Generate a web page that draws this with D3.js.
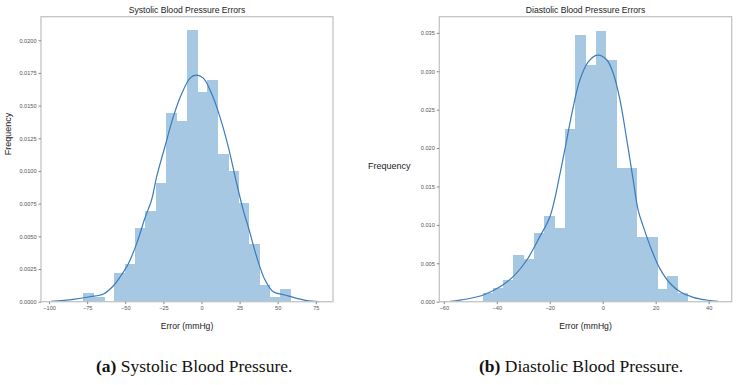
<!DOCTYPE html>
<html>
<head>
<meta charset="utf-8">
<script src="https://cdn.jsdelivr.net/npm/d3@7"></script>
<style>
  body { margin: 0; background: #fff; }
  .tick text { font-family: "Liberation Sans", Arial, sans-serif; font-size: 5.6px; fill: #555; }
  .tick line { stroke: #888; }
  .domain { display: none; }
  .frame { fill: none; stroke: #c4c4c4; stroke-width: 1.3; }
  .bar { fill: #a6c8e2; shape-rendering: crispEdges; }
  .kde { fill: none; stroke: #3a7bbb; stroke-width: 1.2; }
  .title, .lbl { font-family: "Liberation Sans", Arial, sans-serif; fill: #222; }
  .cap { font-family: "Liberation Serif", serif; fill: #111; }
</style>
</head>
<body>
<div class="container"></div>
<script>
var WIDTH = 750, HEIGHT = 385;

// systolic errors (mmHg)
var sysBinEdges = [-77.5,-70.7,-63.9,-57.2,-50.4,-43.6,-36.8,-30.0,-23.3,-16.5,-9.7,-2.9,3.9,10.6,17.4,24.2,31.0,37.8,44.5,51.3,58.1];
var sysBinValues = [0.00064,0.00038,0,0.0022,0.00286,0.00563,0.00693,0.0091,0.01443,0.01384,0.02075,0.01603,0.01697,0.01131,0.01002,0.00752,0.00439,0.00125,0.00034,0.00097];
var sysKdeX = [-98.7,-84.1,-73.2,-64.4,-57.9,-53.5,-48,-42.5,-37.1,-32.7,-29.4,-24,-18.5,-13,-7.5,-3.6,1.2,6.7,12.1,17.6,23.1,27.4,30.7,36.2,41.7,47.1,54.8,62.5,69,77];
var sysKdeY = [0.00003,0.00018,0.00038,0.00059,0.0012,0.00187,0.0029,0.00446,0.0064,0.0078,0.00956,0.01185,0.01414,0.0159,0.0171,0.01733,0.0171,0.0159,0.01414,0.01185,0.00905,0.007,0.00573,0.00344,0.00166,0.00076,0.00051,0.00026,0.00008,0.00001];
var sysXTicks = [-100,-75,-50,-25,0,25,50,75];
var sysYTicks = [0,0.0025,0.005,0.0075,0.01,0.0125,0.015,0.0175,0.02];

// diastolic errors (mmHg)
var diaBinEdges = [-45.3,-41.4,-37.6,-33.7,-29.8,-26.0,-22.1,-18.2,-14.3,-10.5,-6.6,-2.7,1.1,5.0,8.9,12.8,16.6,20.5,24.4,28.2,32.1];
var diaBinValues = [0.0011,0.0018,0.0028,0.0061,0.0056,0.0089,0.0112,0.0096,0.0225,0.0347,0.0308,0.0353,0.0314,0.0174,0.0174,0.0084,0.0084,0.0017,0.0033,0.0011];
var diaKdeX = [-57.6,-51.3,-45.1,-38.8,-33.7,-28.7,-23.7,-19.9,-16.1,-13.6,-11.1,-8.6,-5.4,-2.0,1.5,4.0,6.5,9.1,11.5,13.4,15.3,18.5,21.6,25.4,29.2,34.2,39.2,43.6];
var diaKdeY = [0.00004,0.00035,0.00087,0.00195,0.0033,0.0054,0.0085,0.0111,0.0167,0.02105,0.0254,0.0289,0.03125,0.0321,0.0315,0.0297,0.0263,0.02105,0.01585,0.0119,0.0098,0.0067,0.0043,0.0024,0.0013,0.00057,0.00022,0.00005];
var diaXTicks = [-60,-40,-20,0,20,40];
var diaYTicks = [0,0.005,0.01,0.015,0.02,0.025,0.03,0.035];

var svg = d3.select('.container').append('svg')
            .attr('width', WIDTH)
            .attr('height', HEIGHT);

var drawPanel = function(p){
    var x = d3.scaleLinear().domain(p.xDomain).range([p.left, p.right]);
    var y = d3.scaleLinear().domain(p.yDomain).range([p.bottom, p.top]);
    var g = svg.append('g');

    var bins = p.values.map(function(v, i){ return {x0: p.edges[i], x1: p.edges[i+1], v: v}; });
    g.selectAll('rect.bar').data(bins)
        .enter().append('rect')
            .classed('bar', true)
            .attr('x', function(d){ return x(d.x0); })
            .attr('width', function(d){ return x(d.x1) - x(d.x0) + 0.6; })
            .attr('y', function(d){ return y(d.v); })
            .attr('height', function(d){ return y(0) - y(d.v); });

    var line = d3.line()
        .x(function(d){ return x(d[0]); })
        .y(function(d){ return y(d[1]); })
        .curve(d3.curveCatmullRom);
    g.append('path')
        .classed('kde', true)
        .attr('d', line(d3.zip(p.kdeX, p.kdeY)));

    g.append('rect').classed('frame', true)
        .attr('x', p.left).attr('y', p.top)
        .attr('width', p.right - p.left).attr('height', p.bottom - p.top);

    g.append('g')
        .attr('transform', 'translate(0,' + p.bottom + ')')
        .call(d3.axisBottom(x).tickValues(p.xTicks).tickSize(2.5).tickPadding(2).tickFormat(d3.format('d')));
    g.append('g')
        .attr('transform', 'translate(' + p.left + ',0)')
        .call(d3.axisLeft(y).tickValues(p.yTicks).tickSize(2.5).tickPadding(2).tickFormat(d3.format(p.yFmt)));

    g.append('text').classed('title', true)
        .attr('x', (p.left + p.right) / 2).attr('y', 13)
        .attr('text-anchor', 'middle').attr('font-size', 8.6)
        .text(p.title);
    g.append('text').classed('lbl', true)
        .attr('x', (p.left + p.right) / 2 + p.xLabelShift).attr('y', 329)
        .attr('text-anchor', 'middle').attr('font-size', 8.6)
        .text('Error (mmHg)');
    g.append('text').classed('cap', true)
        .attr('x', p.capX).attr('y', 372)
        .attr('font-size', 17.5)
        .call(function(t){
            t.append('tspan').attr('font-weight', 'bold').text(p.capTag);
            t.append('tspan').text(' ' + p.caption);
        });
};

drawPanel({
    left: 41, right: 333, top: 16.7, bottom: 301.7,
    xDomain: [-105.3, 86.3], yDomain: [0, 0.0218],
    edges: sysBinEdges, values: sysBinValues, kdeX: sysKdeX, kdeY: sysKdeY,
    xTicks: sysXTicks, yTicks: sysYTicks, yFmt: '.4f',
    title: 'Systolic Blood Pressure Errors', xLabelShift: 0,
    capX: 96, capTag: '(a)', caption: 'Systolic Blood Pressure.'
});
drawPanel({
    left: 439.3, right: 731.7, top: 16.7, bottom: 301.7,
    xDomain: [-61.7, 48.7], yDomain: [0, 0.0371],
    edges: diaBinEdges, values: diaBinValues, kdeX: diaKdeX, kdeY: diaKdeY,
    xTicks: diaXTicks, yTicks: diaYTicks, yFmt: '.3f',
    title: 'Diastolic Blood Pressure Errors', xLabelShift: 0,
    capX: 479, capTag: '(b)', caption: 'Diastolic Blood Pressure.'
});

// y labels: rotated on the left panel, horizontal on the right one
svg.append('text').classed('lbl', true)
    .attr('transform', 'translate(11,134) rotate(-90)')
    .attr('text-anchor', 'middle').attr('font-size', 9)
    .text('Frequency');
svg.append('text').classed('lbl', true)
    .attr('x', 368).attr('y', 169)
    .attr('font-size', 9)
    .text('Frequency');
</script>
</body>
</html>
